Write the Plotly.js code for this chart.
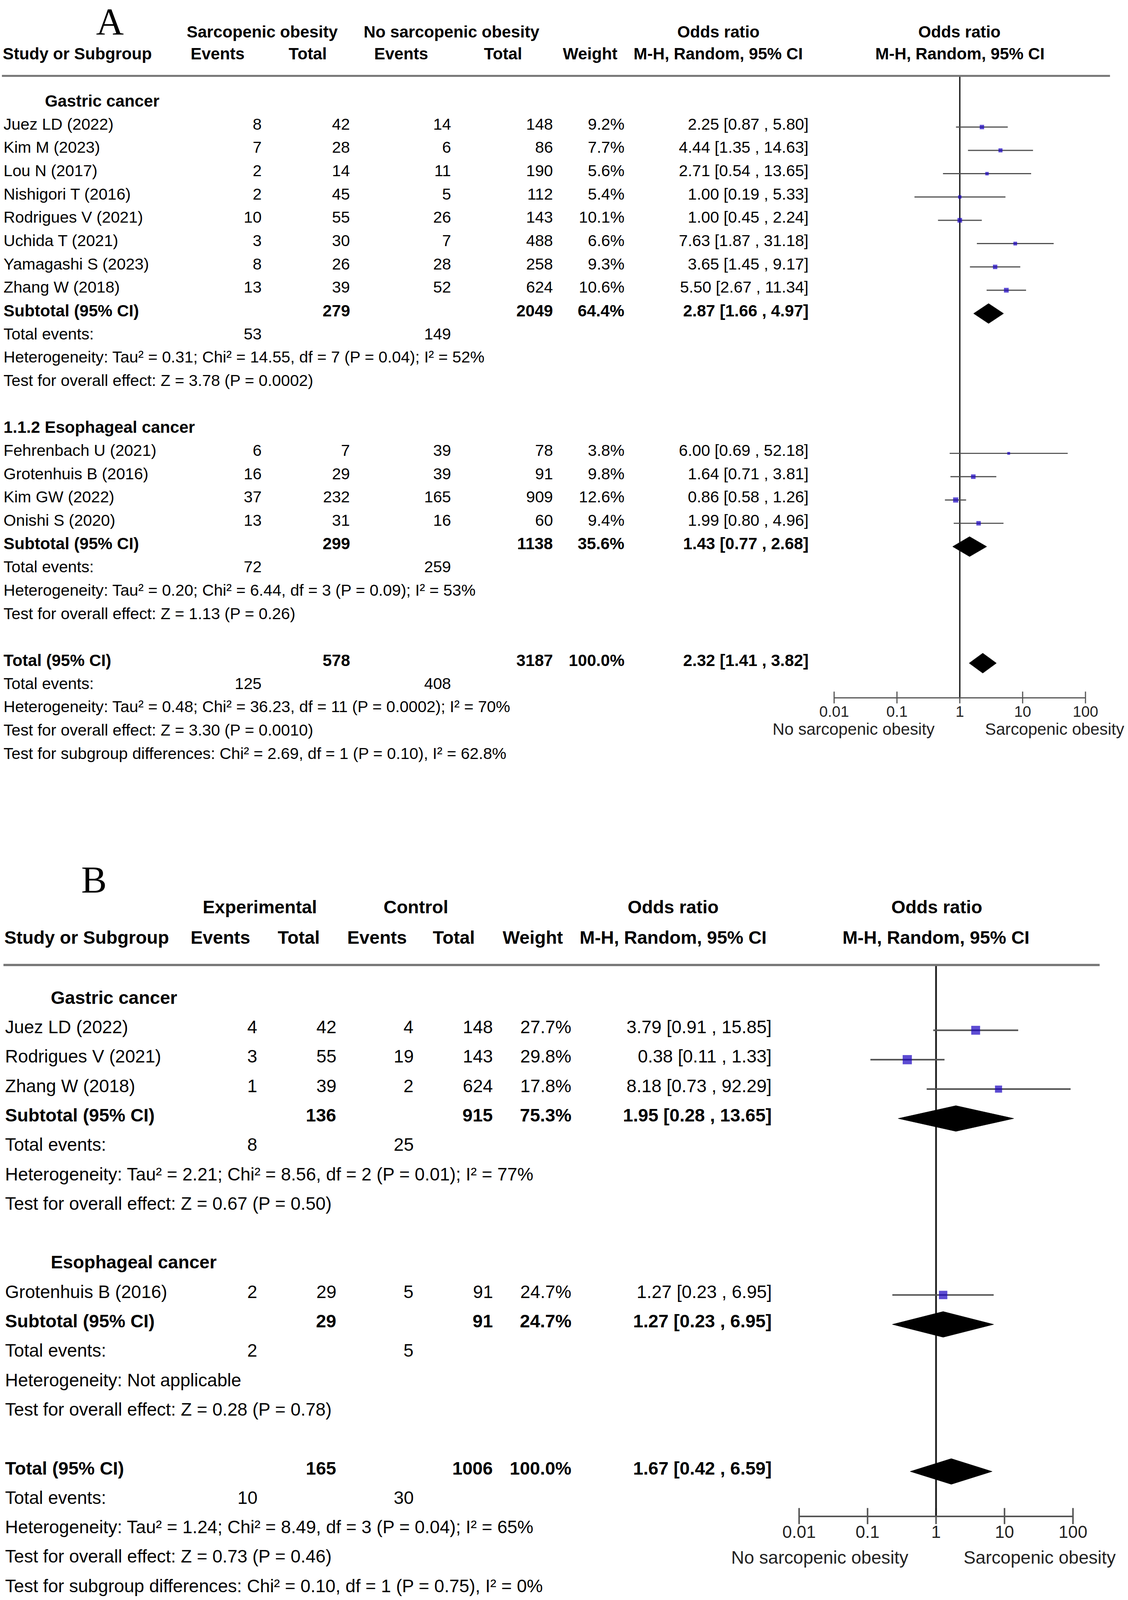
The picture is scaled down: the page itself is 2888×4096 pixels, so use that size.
<!DOCTYPE html>
<html><head><meta charset="utf-8">
<script src="https://cdn.plot.ly/plotly-3.0.1.min.js"></script>
<style>html,body{margin:0;padding:0;background:#fff}</style>
</head><body><div id="chart" style="width:2888px;height:4096px"></div>
<script>
const S = 0.981, W0 = 2944, H0 = 4175;
const FONT = 'Liberation Sans, Arial, Helvetica, sans-serif';
const SERIF = 'Liberation Serif, Times New Roman, serif';

// ---------------- Panel A data ----------------
const aHead1 = ["Sarcopenic obesity", "No sarcopenic obesity", "Odds ratio", "Odds ratio"];
const aHead2 = ["Study or Subgroup", "Events", "Total", "Events", "Total", "Weight", "M-H, Random, 95% CI", "M-H, Random, 95% CI"];
const aGroupNames = ["Gastric cancer", "1.1.2 Esophageal cancer"];
const aStudy = ["Juez LD (2022)", "Kim M (2023)", "Lou N (2017)", "Nishigori T (2016)", "Rodrigues V (2021)", "Uchida T (2021)", "Yamagashi S (2023)", "Zhang W (2018)",
                "Fehrenbach U (2021)", "Grotenhuis B (2016)", "Kim GW (2022)", "Onishi S (2020)"];
const aGroup  = [0, 0, 0, 0, 0, 0, 0, 0, 1, 1, 1, 1];
const aEv1    = [8, 7, 2, 2, 10, 3, 8, 13, 6, 16, 37, 13];
const aTot1   = [42, 28, 14, 45, 55, 30, 26, 39, 7, 29, 232, 31];
const aEv2    = [14, 6, 11, 5, 26, 7, 28, 52, 39, 39, 165, 16];
const aTot2   = [148, 86, 190, 112, 143, 488, 258, 624, 78, 91, 909, 60];
const aWeight = [9.2, 7.7, 5.6, 5.4, 10.1, 6.6, 9.3, 10.6, 3.8, 9.8, 12.6, 9.4];
const aOR     = [2.25, 4.44, 2.71, 1.00, 1.00, 7.63, 3.65, 5.50, 6.00, 1.64, 0.86, 1.99];
const aLo     = [0.87, 1.35, 0.54, 0.19, 0.45, 1.87, 1.45, 2.67, 0.69, 0.71, 0.58, 0.80];
const aHi     = [5.80, 14.63, 13.65, 5.33, 2.24, 31.18, 9.17, 11.34, 52.18, 3.81, 1.26, 4.96];
const aSubTot1 = [279, 299];
const aSubTot2 = [2049, 1138];
const aSubW    = [64.4, 35.6];
const aSubOR   = [2.87, 1.43];
const aSubLo   = [1.66, 0.77];
const aSubHi   = [4.97, 2.68];
const aSubEv1  = [53, 72];
const aSubEv2  = [149, 259];
const aSubHet  = ["Heterogeneity: Tau² = 0.31; Chi² = 14.55, df = 7 (P = 0.04); I² = 52%",
                  "Heterogeneity: Tau² = 0.20; Chi² = 6.44, df = 3 (P = 0.09); I² = 53%"];
const aSubTest = ["Test for overall effect: Z = 3.78 (P = 0.0002)",
                  "Test for overall effect: Z = 1.13 (P = 0.26)"];
const aTotal   = [578, 3187, 100.0, 2.32, 1.41, 3.82];   // tot1, tot2, weight, OR, lo, hi
const aTotalEv = [125, 408];
const aTotalText = ["Heterogeneity: Tau² = 0.48; Chi² = 36.23, df = 11 (P = 0.0002); I² = 70%",
                    "Test for overall effect: Z = 3.30 (P = 0.0010)",
                    "Test for subgroup differences: Chi² = 2.69, df = 1 (P = 0.10), I² = 62.8%"];
const aAxisLabels = ["No sarcopenic obesity", "Sarcopenic obesity"];

// ---------------- Panel B data ----------------
const bHead1 = ["Experimental", "Control", "Odds ratio", "Odds ratio"];
const bHead2 = ["Study or Subgroup", "Events", "Total", "Events", "Total", "Weight", "M-H, Random, 95% CI", "M-H, Random, 95% CI"];
const bGroupNames = ["Gastric cancer", "Esophageal cancer"];
const bStudy  = ["Juez LD (2022)", "Rodrigues V (2021)", "Zhang W (2018)", "Grotenhuis B (2016)"];
const bGroup  = [0, 0, 0, 1];
const bEv1    = [4, 3, 1, 2];
const bTot1   = [42, 55, 39, 29];
const bEv2    = [4, 19, 2, 5];
const bTot2   = [148, 143, 624, 91];
const bWeight = [27.7, 29.8, 17.8, 24.7];
const bOR     = [3.79, 0.38, 8.18, 1.27];
const bLo     = [0.91, 0.11, 0.73, 0.23];
const bHi     = [15.85, 1.33, 92.29, 6.95];
const bSubTot1 = [136, 29];
const bSubTot2 = [915, 91];
const bSubW    = [75.3, 24.7];
const bSubOR   = [1.95, 1.27];
const bSubLo   = [0.28, 0.23];
const bSubHi   = [13.65, 6.95];
const bSubEv1  = [8, 2];
const bSubEv2  = [25, 5];
const bSubHet  = ["Heterogeneity: Tau² = 2.21; Chi² = 8.56, df = 2 (P = 0.01); I² = 77%",
                  "Heterogeneity: Not applicable"];
const bSubTest = ["Test for overall effect: Z = 0.67 (P = 0.50)",
                  "Test for overall effect: Z = 0.28 (P = 0.78)"];
const bTotal   = [165, 1006, 100.0, 1.67, 0.42, 6.59];
const bTotalEv = [10, 30];
const bTotalText = ["Heterogeneity: Tau² = 1.24; Chi² = 8.49, df = 3 (P = 0.04); I² = 65%",
                    "Test for overall effect: Z = 0.73 (P = 0.46)",
                    "Test for subgroup differences: Chi² = 0.10, df = 1 (P = 0.75), I² = 0%"];
const bAxisLabels = ["No sarcopenic obesity", "Sarcopenic obesity"];

const tickVals = [0.01, 0.1, 1, 10, 100];
const tickText = ["0.01", "0.1", "1", "10", "100"];

// ---------------- geometry (reference pixels) ----------------
const GA = {letter: "A", letterX: 287, letterY: 56, letterFs: 100,
  row0: 270.7, dy: 60.82, tShift: 7.7, headerY: 198, headerX: [5, 2897], headerW: 5,
  axisY: 1820, oneX: 2505, decade: 164, tickHalf: 11, axisW: 3, tickFs: 40, standoff: 15,
  labFs: 43, labY: 1902, labGap: 64, fs: 42, bfs: 43,
  cols: {name: 7, ev1: 685, tot1: 915, ev2: 1179, tot2: 1445, w: 1632, ci: 2112},
  headIndent: [115, 7], head1Y: 83, head2Y: 140,
  head1X: [685, 1179, 1875, 2504], head2X: [5, 568, 803, 1047, 1313, 1540, 1874, 2505],
  diaHalf: 26, sqK: 3.8, ciW: 3, nullW: 3.5, xName: 'xaxis', yName: 'yaxis', xa: 'x', ya: 'y'};
const GB = {letter: "B", letterX: 245, letterY: 2295, letterFs: 100,
  row0: 2611.6, dy: 76.75, tShift: 8.6, headerY: 2518, headerX: [9, 2870], headerW: 6,
  axisY: 3956, oneX: 2443, decade: 178.7, tickHalf: 15, axisW: 4, tickFs: 45, standoff: 21,
  labFs: 47, labY: 4064, labGap: 70, fs: 47, bfs: 47.5,
  cols: {name: 11, ev1: 674, tot1: 880, ev2: 1082, tot2: 1288, w: 1493, ci: 2016},
  headIndent: [130, 130], head1Y: 2367, head2Y: 2446,
  head1X: [678, 1086, 1757, 2445], head2X: [9, 575, 780, 984, 1185, 1390, 1757, 2443],
  diaHalf: 33.5, sqK: 4.4, ciW: 4, nullW: 4.5, xName: 'xaxis2', yName: 'yaxis2', xa: 'x2', ya: 'y2'};

const DA = {head1: aHead1, head2: aHead2, groups: aGroupNames, study: aStudy, group: aGroup, ev1: aEv1, tot1: aTot1, ev2: aEv2, tot2: aTot2,
  w: aWeight, or: aOR, lo: aLo, hi: aHi, subTot1: aSubTot1, subTot2: aSubTot2, subW: aSubW, subOR: aSubOR, subLo: aSubLo, subHi: aSubHi,
  subEv1: aSubEv1, subEv2: aSubEv2, subHet: aSubHet, subTest: aSubTest, total: aTotal, totalEv: aTotalEv, totalText: aTotalText, axisLabels: aAxisLabels};
const DB = {head1: bHead1, head2: bHead2, groups: bGroupNames, study: bStudy, group: bGroup, ev1: bEv1, tot1: bTot1, ev2: bEv2, tot2: bTot2,
  w: bWeight, or: bOR, lo: bLo, hi: bHi, subTot1: bSubTot1, subTot2: bSubTot2, subW: bSubW, subOR: bSubOR, subLo: bSubLo, subHi: bSubHi,
  subEv1: bSubEv1, subEv2: bSubEv2, subHet: bSubHet, subTest: bSubTest, total: bTotal, totalEv: bTotalEv, totalText: bTotalText, axisLabels: bAxisLabels};

const traces = [], annotations = [], shapes = [];
const layout = {width: 2888, height: 4096, margin: {l: 0, r: 0, t: 0, b: 0}, autosize: false,
  paper_bgcolor: '#ffffff', plot_bgcolor: 'rgba(0,0,0,0)', showlegend: false, hovermode: false};

const fmtCI = (o, l, h) => `${o.toFixed(2)} [${l.toFixed(2)} , ${h.toFixed(2)}]`;
const fmtW = w => w.toFixed(1) + '%';

function build(D, G) {
  const ya = G.ya, xa = G.xa;
  function t(text, xpx, row, anchor, bold) {
    annotations.push({text: bold ? '<b>' + text + '</b>' : String(text), x: xpx / W0, xref: 'paper', y: row, yref: ya,
      xanchor: anchor, yanchor: 'middle', showarrow: false, yshift: G.tShift * S,
      font: {family: FONT, size: (bold ? G.bfs : G.fs) * S, color: '#000'}});
  }
  function tp(text, xpx, ypx, anchor, size, family, bold) {
    annotations.push({text: bold ? '<b>' + text + '</b>' : text, x: xpx / W0, xref: 'paper', y: 1 - ypx / H0, yref: 'paper',
      xanchor: anchor, yanchor: 'middle', showarrow: false, font: {family: family, size: size * S, color: '#000'}});
  }
  // letter + header
  tp(G.letter, G.letterX, G.letterY, 'center', G.letterFs, SERIF, false);
  D.head1.forEach((h, i) => tp(h, G.head1X[i], G.head1Y, 'center', G.bfs, FONT, true));
  D.head2.forEach((h, i) => tp(h, G.head2X[i], G.head2Y, i === 0 ? 'left' : 'center', G.bfs, FONT, true));
  shapes.push({type: 'line', xref: 'paper', yref: 'paper', x0: G.headerX[0] / W0, x1: G.headerX[1] / W0,
    y0: 1 - G.headerY / H0, y1: 1 - G.headerY / H0, line: {color: '#757575', width: G.headerW * S}});

  const c = G.cols;
  const studyRow = [], subRow = [];
  let r = 0;
  D.groups.forEach((g, gi) => {
    t(g, G.headIndent[gi], r, 'left', true); r++;
    D.study.forEach((s, si) => {
      if (D.group[si] !== gi) return;
      studyRow[si] = r;
      t(s, c.name, r, 'left', false);
      t(D.ev1[si], c.ev1, r, 'right', false);
      t(D.tot1[si], c.tot1, r, 'right', false);
      t(D.ev2[si], c.ev2, r, 'right', false);
      t(D.tot2[si], c.tot2, r, 'right', false);
      t(fmtW(D.w[si]), c.w, r, 'right', false);
      t(fmtCI(D.or[si], D.lo[si], D.hi[si]), c.ci, r, 'right', false);
      r++;
    });
    subRow[gi] = r;
    t('Subtotal (95% CI)', c.name, r, 'left', true);
    t(D.subTot1[gi], c.tot1, r, 'right', true);
    t(D.subTot2[gi], c.tot2, r, 'right', true);
    t(fmtW(D.subW[gi]), c.w, r, 'right', true);
    t(fmtCI(D.subOR[gi], D.subLo[gi], D.subHi[gi]), c.ci, r, 'right', true);
    r++;
    t('Total events:', c.name, r, 'left', false);
    t(D.subEv1[gi], c.ev1, r, 'right', false);
    t(D.subEv2[gi], c.ev2, r, 'right', false);
    r++;
    t(D.subHet[gi], c.name, r, 'left', false); r++;
    t(D.subTest[gi], c.name, r, 'left', false); r++;
    r++;
  });
  const totRow = r;
  t('Total (95% CI)', c.name, r, 'left', true);
  t(D.total[0], c.tot1, r, 'right', true);
  t(D.total[1], c.tot2, r, 'right', true);
  t(fmtW(D.total[2]), c.w, r, 'right', true);
  t(fmtCI(D.total[3], D.total[4], D.total[5]), c.ci, r, 'right', true);
  r++;
  t('Total events:', c.name, r, 'left', false);
  t(D.totalEv[0], c.ev1, r, 'right', false);
  t(D.totalEv[1], c.ev2, r, 'right', false);
  r++;
  D.totalText.forEach(s => { t(s, c.name, r, 'left', false); r++; });

  // axes
  const axisRow = (G.axisY - G.row0) / G.dy;
  const headRow = (G.headerY - G.row0) / G.dy;
  layout[G.xName] = {type: 'log', domain: [(G.oneX - 2 * G.decade) / W0, (G.oneX + 2 * G.decade) / W0], range: [-2, 2],
    anchor: 'free', position: 1 - G.axisY / H0, showline: true, linecolor: '#555', linewidth: G.axisW * S,
    ticks: '', tickmode: 'array', tickvals: tickVals, ticktext: tickText, ticklabelstandoff: G.standoff * S,
    tickfont: {family: FONT, size: G.tickFs * S, color: '#222'}, showgrid: false, zeroline: false, fixedrange: true};
  layout[G.yName] = {domain: [0, 1], range: [(H0 - G.row0) / G.dy, -G.row0 / G.dy], visible: false, fixedrange: true, anchor: xa};

  // axis side labels
  annotations.push({text: D.axisLabels[0], x: 0, xref: xa, xshift: -G.labGap * S, y: 1 - G.labY / H0, yref: 'paper',
    xanchor: 'right', yanchor: 'middle', showarrow: false, font: {family: FONT, size: G.labFs * S, color: '#222'}});
  annotations.push({text: D.axisLabels[1], x: 0, xref: xa, xshift: G.labGap * S, y: 1 - G.labY / H0, yref: 'paper',
    xanchor: 'left', yanchor: 'middle', showarrow: false, font: {family: FONT, size: G.labFs * S, color: '#222'}});

  // tick marks crossing the axis
  traces.push({type: 'scatter', mode: 'markers', xaxis: xa, yaxis: ya, x: tickVals, y: tickVals.map(() => axisRow),
    marker: {symbol: 'line-ns', size: 2 * G.tickHalf * S, color: '#555', line: {width: G.axisW * S, color: '#555'}},
    hoverinfo: 'skip', cliponaxis: false});
  // null line at OR = 1
  traces.push({type: 'scatter', mode: 'lines', xaxis: xa, yaxis: ya, x: [1, 1], y: [headRow, axisRow],
    line: {color: '#1a1a1a', width: G.nullW * S}, hoverinfo: 'skip', cliponaxis: false});
  // confidence intervals
  const cx = [], cy = [];
  D.study.forEach((s, i) => { cx.push(D.lo[i], D.hi[i], null); cy.push(studyRow[i], studyRow[i], null); });
  traces.push({type: 'scatter', mode: 'lines', xaxis: xa, yaxis: ya, x: cx, y: cy,
    line: {color: '#505050', width: G.ciW * S}, hoverinfo: 'skip', cliponaxis: false});
  // study squares
  traces.push({type: 'scatter', mode: 'markers', xaxis: xa, yaxis: ya, x: D.or, y: studyRow,
    marker: {symbol: 'square', size: D.w.map(w => G.sqK * Math.sqrt(w) * S), color: '#1800c0', line: {width: 0}},
    hoverinfo: 'skip', cliponaxis: false});
  // diamonds
  const h = G.diaHalf / G.dy;
  const dia = (o, l, hi, row) => traces.push({type: 'scatter', mode: 'lines', xaxis: xa, yaxis: ya,
    x: [l, o, hi, o, l], y: [row, row - h, row, row + h, row], fill: 'toself', fillcolor: '#000',
    line: {color: '#000', width: 1}, hoverinfo: 'skip', cliponaxis: false});
  D.groups.forEach((g, gi) => dia(D.subOR[gi], D.subLo[gi], D.subHi[gi], subRow[gi]));
  dia(D.total[3], D.total[4], D.total[5], totRow);
}

build(DA, GA);
build(DB, GB);
layout.annotations = annotations;
layout.shapes = shapes;

Plotly.newPlot('chart', traces, layout, {staticPlot: true, displayModeBar: false});
</script>
</body></html>
